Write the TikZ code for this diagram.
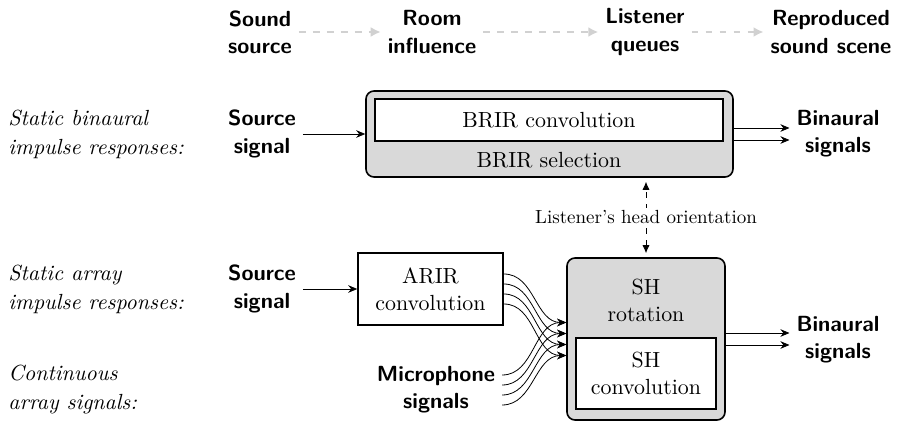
\documentclass[tikz,border=0pt]{standalone}
\usetikzlibrary{arrows.meta}
\begin{document}
\begin{tikzpicture}[x=0.5pt,y=-0.5pt,
  base/.style={font=\fontsize{10.95}{13.6}\selectfont, align=center},
  head/.style={align=center, font=\fontsize{10.95}{13.6}\selectfont\sffamily\bfseries},
  lbl/.style={font=\fontsize{10.95}{14.5}\selectfont\itshape, align=left, anchor=west, inner sep=0pt},
  small/.style={font=\fontsize{9.5}{11.5}\selectfont, align=center},
  graybox/.style={draw, thick, fill=black!15, rounded corners=4pt},
  whitebox/.style={draw, thick, fill=white},
  sig/.style={-{Stealth[length=4.5pt,width=3.8pt]}, thin},
  flow/.style={-{Latex[length=5pt,width=5pt]}, line width=1.2pt, black!18, dash pattern=on 3.4pt off 3.6pt},
  ctrl/.style={{Latex[length=4pt,width=3.6pt]}-{Latex[length=4pt,width=3.6pt]}, thin, dash pattern=on 3pt off 3pt},
]
\useasboundingbox (0,0) rectangle (904,422);

% header
\node[head] (h1) at (260,32) {Sound\\source};
\node[head] (h2) at (432,32) {Room\\influence};
\node[head] (h3) at (645,32) {Listener\\queues};
\node[head] (h4) at (831,32) {Reproduced\\sound scene};
\draw[flow] (h1) -- (h2);
\draw[flow] (h2) -- (h3);
\draw[flow] (h3) -- (h4);

% left labels
\node[lbl] (l1) at (8,134) {Static binaural\\impulse responses:};
\node[lbl] (l2) at (8,289) {Static array\\impulse responses:};
\node[lbl] (l3) at (8,390) {Continuous\\array signals:};

% signals
\node[head] (s1) at (262,134) {Source\\signal};
\node[head] (s2) at (262,289) {Source\\signal};
\node[head] (mic) at (436,390) {Microphone\\signals};
\node[head] (b1) at (838,134) {Binaural\\signals};
\node[head] (b2) at (838,340) {Binaural\\signals};

% BRIR block
\node[graybox, minimum width=183.5pt, minimum height=43pt] (brir) at (549.5,134) {};
\node[whitebox, base, minimum width=174pt, minimum height=21pt] (conv) at (549,120) {BRIR convolution};
\node[base] (sel) at (549,160) {BRIR selection};

% ARIR block
\node[whitebox, base, minimum width=72.5pt, minimum height=36pt] (arir) at (430.5,289) {ARIR\\convolution};

% SH block
\node[graybox, minimum width=79pt, minimum height=81pt] (sh) at (646,339) {};
\node[base] (rot) at (646,300) {SH\\rotation};
\node[whitebox, base, minimum width=70pt, minimum height=35.5pt] (shc) at (646,373.5) {SH\\convolution};

% connectors
\draw[sig] (s1.east) -- (s1.east -| brir.west);
\draw[sig] ([yshift=3pt]brir.east) -- ([yshift=3pt]brir.east -| b1.west);
\draw[sig] ([yshift=-3pt]brir.east) -- ([yshift=-3pt]brir.east -| b1.west);
\draw[sig] (s2.east) -- (s2.east -| arir.west);
\draw[sig] ([yshift=3pt]sh.east) -- ([yshift=3pt]sh.east -| b2.west);
\draw[sig] ([yshift=-3pt]sh.east) -- ([yshift=-3pt]sh.east -| b2.west);

\foreach \a/\b in {7.5/8.25, 2.5/2.75, -2.5/-2.75, -7.5/-8.25} {
  \draw[sig] ([yshift=\a pt]arir.east) to[out=0,in=180] ([yshift=\b pt]sh.west);
  \draw[sig] ([yshift=\a pt]mic.east) to[out=0,in=180] ([yshift=\b pt]sh.west);
}

\draw[ctrl, shorten <=2pt, shorten >=2pt] (sh.north) -- node[small, fill=white, inner sep=1.5pt] (hd) {Listener's head orientation} (sh.north |- brir.south);
\end{tikzpicture}
\end{document}
